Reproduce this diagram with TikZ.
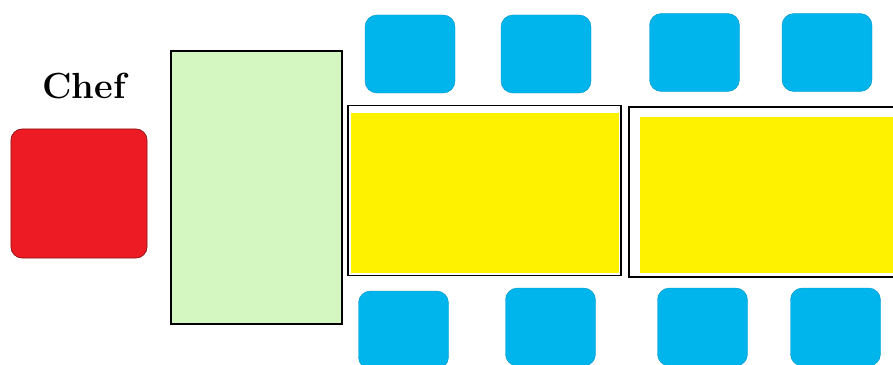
\documentclass[tikz,border=0pt]{standalone}
\definecolor{chairblue}{RGB}{0,180,236}
\definecolor{tableyellow}{RGB}{255,242,0}
\definecolor{countergreen}{RGB}{212,247,194}
\definecolor{chefred}{RGB}{237,28,36}
\begin{document}
\begin{tikzpicture}[
  x=0.03cm, y=-0.03cm,
  box/.style={draw, line width=0.9pt, inner sep=0pt, outer sep=0pt},
  chair/.style={fill=chairblue, draw=chairblue!85!black, line width=0.4pt, rounded corners=0.36cm,
    minimum width=2.7cm, minimum height=2.34cm, inner sep=0pt},
  table_top/.style={box, fill=white, minimum width=#1, minimum height=5.12cm},
  table_fill/.style={fill=tableyellow, inner sep=0pt, minimum width=#1},
  title/.style={font=\fontsize{31}{36}\selectfont\bfseries},
]
\useasboundingbox (0,0) rectangle (893,365);
% Chef and counter
\node[title] (chef) at (84,86) {Chef};
\node[fill=chefred, draw=chefred!60!black, line width=0.6pt, rounded corners=0.33cm,
  minimum width=4.08cm, minimum height=3.87cm] (cook) at (79,193.5) {};
\node[box, fill=countergreen, minimum width=5.13cm, minimum height=8.19cm] (counter) at (256.5,187.5) {};
% Tables
\node[table_top=8.19cm] (tableA) at (484.5,190.5) {};
\node[table_fill=8.04cm, minimum height=4.8cm] (fillA) at (485,193) {};
\node[table_top=8.43cm, minimum height=5.1cm] (tableB) at (769.5,192) {};
\node[table_fill=8.1cm, minimum height=4.68cm] (fillB) at (775,195) {};
% Chairs
\foreach \x/\y [count=\i] in {410/54, 546/54, 694.5/52.5, 827/52.5}
  \node[chair] (top\i) at (\x,\y) {};
\foreach \x/\y [count=\i] in {403.5/330, 550.5/327, 702.5/327, 835.5/327}
  \node[chair] (bottom\i) at (\x,\y) {};
\end{tikzpicture}
\end{document}
